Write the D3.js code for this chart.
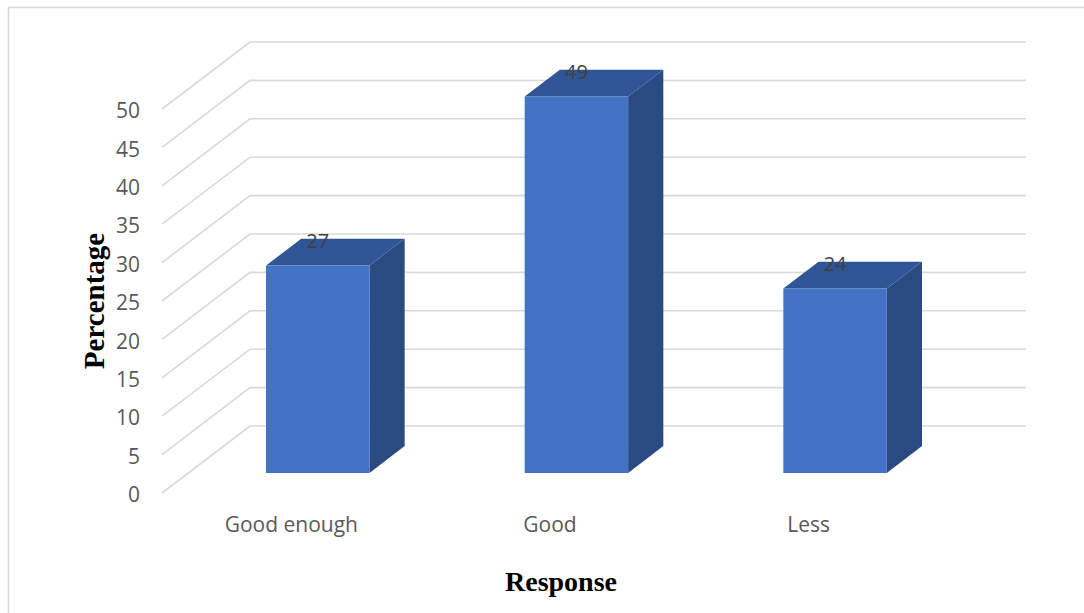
<!DOCTYPE html>
<html>
<head>
<meta charset="utf-8">
<script src="https://cdn.jsdelivr.net/npm/d3@7"></script>
<style>
  html, body { margin: 0; padding: 0; background: #fff; }
  svg { display: block; }
  .tick text { font-family: "Open Sans", "DejaVu Sans", sans-serif; }
</style>
</head>
<body>
<svg id="chart" width="1084" height="613"></svg>
<script>
// Survey responses (percentage)
const categories = ["Good enough", "Good", "Less"];
const values = [27, 49, 24];
const yTicks = [0, 5, 10, 15, 20, 25, 30, 35, 40, 45, 50];

const svg = d3.select("#chart");

// Oblique 3D projection: depth z in [0,1] shifts points right and up
const depthDx = 88, depthDy = 67;
const frontLeft = 162, frontRight = 938;

const x = d3.scaleBand()
  .domain(categories)
  .range([frontLeft, frontRight])
  .paddingInner(0.6)
  .paddingOuter(0.3);

const y = d3.scaleLinear().domain([0, 50]).range([493, 109]);

const proj = (px, v, z) => [px + z * depthDx, y(v) - z * depthDy];

// Outer frame
svg.append("rect")
  .attr("x", 8.5).attr("y", 7.5)
  .attr("width", 1200).attr("height", 800)
  .attr("fill", "none").attr("stroke", "#d9d9d9").attr("stroke-width", 1.5);

// Gridlines: left-wall diagonal + back-wall horizontal
const grid = svg.append("g").attr("fill", "none")
  .attr("stroke", "#d9d9d9").attr("stroke-width", 1.6);
yTicks.forEach(t => {
  const a = proj(frontLeft, t, 0);
  const b = proj(frontLeft, t, 1);
  const c = proj(frontRight, t, 1);
  grid.append("path").attr("d", d3.line()([a, b, c]));
});

// Value axis labels
const yAxis = d3.axisLeft(y).tickValues(yTicks).tickSize(0).tickPadding(0);
const gy = svg.append("g").attr("transform", "translate(140,2)").call(yAxis);
gy.select(".domain").remove();
gy.selectAll(".tick text")
  .attr("font-size", 21)
  .attr("fill", "#595959");

// 3D bars
const z0 = 0.3, z1 = 0.7;
const colors = { front: "#4472C4", top: "#2F5597", side: "#2A4A82" };
const bars = svg.append("g");
categories.forEach((cat, i) => {
  const v = values[i];
  const xl = x(cat), xr = x(cat) + x.bandwidth();
  const fbl = proj(xl, 0, z0), fbr = proj(xr, 0, z0);
  const ftl = proj(xl, v, z0), ftr = proj(xr, v, z0);
  const btl = proj(xl, v, z1), btr = proj(xr, v, z1);
  const bbr = proj(xr, 0, z1);
  const line = d3.line();
  bars.append("path").attr("d", line([ftr, fbr, bbr, btr]) + "Z").attr("fill", colors.side);
  bars.append("path").attr("d", line([ftl, ftr, btr, btl]) + "Z").attr("fill", colors.top);
  bars.append("path").attr("d", line([fbl, fbr, ftr, ftl]) + "Z").attr("fill", colors.front);

  // data label above the bar
  const lx = x(cat) + x.bandwidth() / 2 + z0 * depthDx;
  const ly = y(v) - z1 * depthDy + 2;
  svg.append("text")
    .attr("x", lx).attr("y", ly)
    .attr("text-anchor", "middle").attr("dominant-baseline", "central")
    .attr("font-family", "Open Sans, DejaVu Sans, sans-serif")
    .attr("font-size", 20).attr("fill", "#404040")
    .text(v);
});

// Category labels
const xAxis = d3.axisBottom(x).tickSize(0).tickPadding(0);
const gx = svg.append("g").attr("transform", "translate(0,517)").call(xAxis);
gx.select(".domain").remove();
gx.selectAll(".tick text")
  .attr("font-size", 21)
  .attr("fill", "#595959");

// Axis titles
svg.append("text")
  .attr("transform", "translate(104,301) rotate(-90)")
  .attr("text-anchor", "middle")
  .attr("font-family", "Liberation Serif, Times New Roman, serif")
  .attr("font-weight", "bold").attr("font-size", 29).attr("fill", "#000")
  .text("Percentage");

svg.append("text")
  .attr("x", 561).attr("y", 591)
  .attr("text-anchor", "middle")
  .attr("font-family", "Liberation Serif, Times New Roman, serif")
  .attr("font-weight", "bold").attr("font-size", 28).attr("fill", "#000")
  .text("Response");
</script>
</body>
</html>
